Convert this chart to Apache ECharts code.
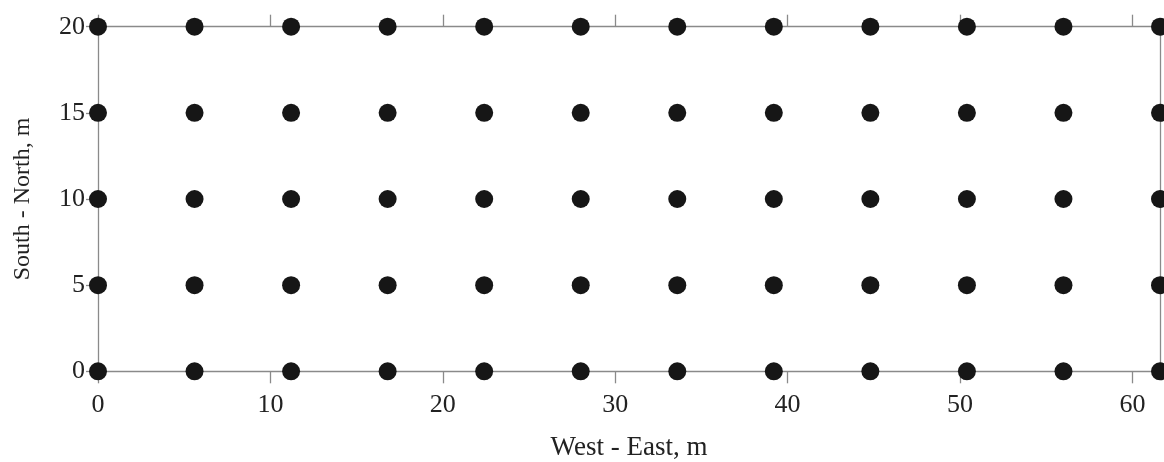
<!DOCTYPE html>
<html>
<head>
<meta charset="utf-8">
<script src="https://cdn.jsdelivr.net/npm/echarts@6/dist/echarts.min.js"></script>
<style>html,body{margin:0;padding:0;background:#fff;}#c{width:1164px;height:462px;}</style>
</head>
<body>
<div id="c"></div>
<script>
var xPositions = [0, 5.6, 11.2, 16.8, 22.4, 28, 33.6, 39.2, 44.8, 50.4, 56, 61.6];
var yPositions = [0, 5, 10, 15, 20];
var xTicks = [0, 10, 20, 30, 40, 50, 60];
var yTicks = [0, 5, 10, 15, 20];
var xTitle = 'West - East, m';
var yTitle = 'South - North, m';

var pts = [];
yPositions.forEach(function (y) { xPositions.forEach(function (x) { pts.push([x, y]); }); });

var FONT = 'Liberation Serif';
var axisCol = '#8a8a8a';
var chart = echarts.init(document.getElementById('c'), null, {renderer: 'canvas'});
chart.setOption({
  animation: false,
  backgroundColor: '#fff',
  grid: {left: 98, right: 4, top: 26.7, bottom: 90.7, containLabel: false, outerBoundsMode: 'none'},
  xAxis: [{
    type: 'value', position: 'bottom', min: 0, max: 61.6,
    splitLine: {show: false},
    axisLine: {show: true, onZero: false, lineStyle: {color: axisCol, width: 1.3}},
    axisTick: {show: true, length: 12, inside: false, customValues: xTicks, lineStyle: {color: axisCol, width: 1.3}},
    axisLabel: {customValues: xTicks, fontFamily: FONT, fontSize: 26, color: '#222', margin: 21},
    name: xTitle, nameLocation: 'middle', nameGap: 63,
    nameTextStyle: {fontFamily: FONT, fontSize: 27, color: '#222'}
  }, {
    type: 'value', position: 'top', min: 0, max: 61.6,
    splitLine: {show: false},
    axisLine: {show: true, onZero: false, lineStyle: {color: axisCol, width: 1.3}},
    axisTick: {show: true, length: 12, inside: false, customValues: xTicks, lineStyle: {color: axisCol, width: 1.3}},
    axisLabel: {show: false}
  }],
  yAxis: [{
    type: 'value', position: 'left', min: 0, max: 20, interval: 5,
    splitLine: {show: false},
    axisLine: {show: true, onZero: false, lineStyle: {color: axisCol, width: 1.3}},
    axisTick: {show: true, length: 12, inside: false, customValues: yTicks, lineStyle: {color: axisCol, width: 1.3}},
    axisLabel: {customValues: yTicks, fontFamily: FONT, fontSize: 26, color: '#222', margin: 13},
    name: yTitle, nameLocation: 'middle', nameGap: 63, nameRotate: 90,
    nameTextStyle: {fontFamily: FONT, fontSize: 24, color: '#222'}
  }, {
    type: 'value', position: 'right', min: 0, max: 20, interval: 5,
    splitLine: {show: false},
    axisLine: {show: true, onZero: false, lineStyle: {color: axisCol, width: 1.3}},
    axisTick: {show: false},
    axisLabel: {show: false}
  }],
  series: [{
    type: 'scatter', xAxisIndex: 0, yAxisIndex: 0, data: pts,
    symbol: 'circle', symbolSize: 18, clip: false,
    itemStyle: {color: '#161616', opacity: 1}
  }]
});
</script>
</body>
</html>
